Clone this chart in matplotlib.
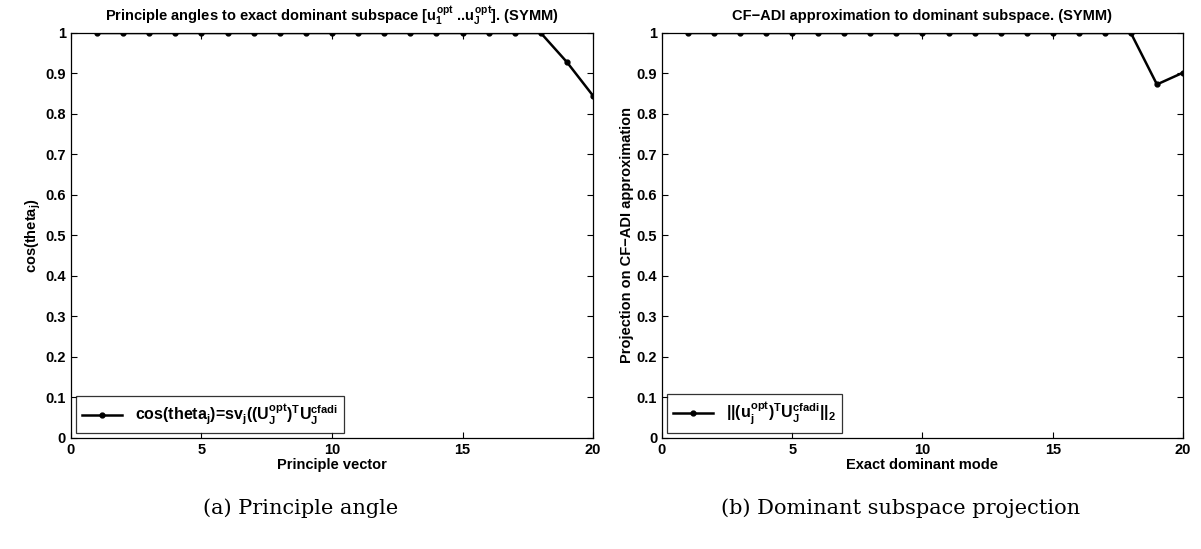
import matplotlib
matplotlib.use("Agg")
import matplotlib.pyplot as plt
import numpy as np

# Data
modes = list(range(1, 21))
cos_theta = [1, 1, 1, 1, 1, 1, 1, 1, 1, 1, 1, 1, 1, 1, 1, 1, 1, 1, 0.928, 0.845]
projection = [1, 1, 1, 1, 1, 1, 1, 1, 1, 1, 1, 1, 1, 1, 1, 1, 1, 1, 0.873, 0.902]
xticks = [0, 5, 10, 15, 20]
yticks = [0, 0.1, 0.2, 0.3, 0.4, 0.5, 0.6, 0.7, 0.8, 0.9, 1]
ytick_labels = ["0", "0.1", "0.2", "0.3", "0.4", "0.5", "0.6", "0.7", "0.8", "0.9", "1"]

plt.rcParams['font.family'] = ['Liberation Sans', 'DejaVu Sans']
plt.rcParams['font.weight'] = 'bold'
plt.rcParams['mathtext.fontset'] = 'custom'
plt.rcParams['mathtext.rm'] = 'Liberation Sans:bold'
plt.rcParams['mathtext.it'] = 'Liberation Sans:bold'
plt.rcParams['mathtext.bf'] = 'Liberation Sans:bold'

fig = plt.figure(figsize=(12.01, 5.49), dpi=100)

panels = [
    dict(pos=[0.0591, 0.2022, 0.4347, 0.7377], y=cos_theta,
         title=r"Principle angles to exact dominant subspace [$u_1^{opt}$ ..$u_J^{opt}$]. (SYMM)",
         xlabel="Principle vector", ylabel=r"cos(theta$_j$)",
         legend=r"cos(theta$_j$)=sv$_j$((U$_J^{opt}$)$^T$U$_J^{cfadi}$",
         caption="(a) Principle angle", cx=0.25),
    dict(pos=[0.5512, 0.2022, 0.4338, 0.7377], y=projection,
         title="CF\u2212ADI approximation to dominant subspace. (SYMM)",
         xlabel="Exact dominant mode", ylabel="Projection on CF\u2212ADI approximation",
         legend=r"||(u$_j^{opt}$)$^T$U$_J^{cfadi}$||$_2$",
         caption="(b) Dominant subspace projection", cx=0.75),
]

for p in panels:
    ax = fig.add_axes(p["pos"])
    ax.plot(modes, p["y"], color="black", lw=1.8, marker="o", markersize=3.5,
            label=p["legend"])
    ax.set_xlim(0, 20)
    ax.set_ylim(0, 1)
    ax.set_xticks(xticks)
    ax.set_yticks(yticks)
    ax.set_yticklabels(ytick_labels)
    ax.tick_params(direction="in", top=True, right=True, labelsize=10.5, length=4,
                   width=0.8)
    for s in ax.spines.values():
        s.set_linewidth(0.9)
    ax.set_title(p["title"], fontsize=10.5, fontweight="bold", pad=9)
    ax.set_xlabel(p["xlabel"], fontsize=10.5, fontweight="bold", labelpad=1)
    ax.set_ylabel(p["ylabel"], fontsize=10.5, fontweight="bold", labelpad=2)
    leg = ax.legend(loc="lower left", fontsize=11.5, frameon=True, fancybox=False,
                    edgecolor="black", borderaxespad=0.3, handlelength=2.5)
    leg.get_frame().set_linewidth(0.9)
    fig.text(p["cx"], 0.075, p["caption"], ha="center", va="center",
             fontsize=15, fontweight="normal", family="DejaVu Serif")

fig.savefig("out.png", dpi=100)
